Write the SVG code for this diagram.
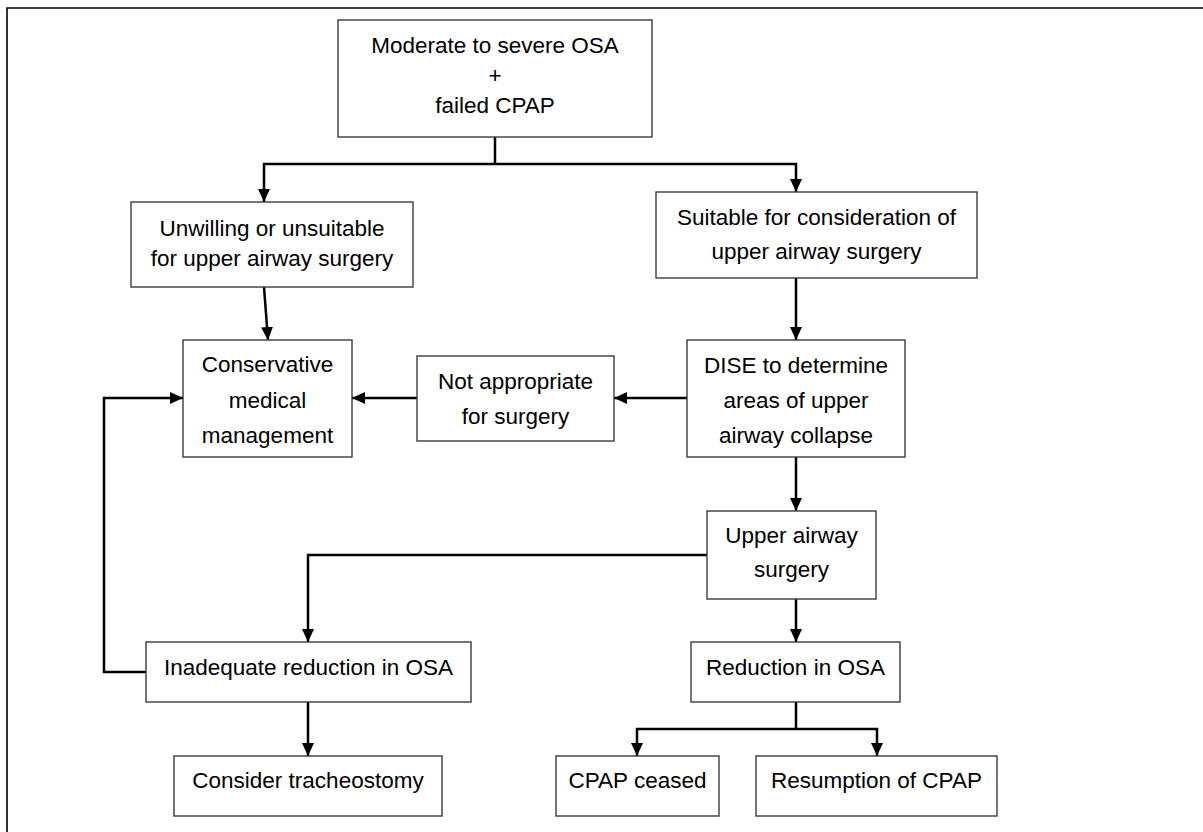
<svg xmlns="http://www.w3.org/2000/svg" width="1203" height="832" viewBox="0 0 1203 832">
<style>
.box{fill:#fff;stroke:#3c3c3c;stroke-width:1.4}
.t{font-family:"Liberation Sans",Arial,sans-serif;font-size:22.5px;fill:#000;text-anchor:middle}
.c{fill:none;stroke:#000;stroke-width:2.5;stroke-linejoin:miter}
.ca{fill:none;stroke:#000;stroke-width:2.5;marker-end:url(#ah)}
</style>
<defs>
<marker id="ah" viewBox="0 0 13 12" refX="13" refY="6" markerUnits="userSpaceOnUse" markerWidth="13" markerHeight="12" orient="auto">
<path d="M0,0 L13,6 L0,12 z" fill="#000"/>
</marker>
</defs>
<rect width="1203" height="832" fill="#fff"/>
<path d="M7,832 V8 H1203" fill="none" stroke="#000" stroke-width="1.6"/>
<g id="connectors">
<path class="c" d="M495,137 V164"/>
<path class="ca" d="M495,164 H264 V202"/>
<path class="ca" d="M495,164 H796 V192"/>
<path class="ca" d="M264,287 L268,340"/>
<path class="ca" d="M796,278 V340"/>
<path class="ca" d="M687,398 H614"/>
<path class="ca" d="M417,398 H352"/>
<path class="ca" d="M796,457 V511"/>
<path class="ca" d="M707,555 H308 V642"/>
<path class="ca" d="M146,672 H104 V398 H183"/>
<path class="ca" d="M796,599 V642"/>
<path class="ca" d="M308,702 V756"/>
<path class="c" d="M796,702 V729"/>
<path class="ca" d="M796,729 H637 V756"/>
<path class="ca" d="M796,729 H877 V756"/>
</g>
<g id="n-top">
<rect class="box" x="338" y="20" width="314" height="117"/>
<text class="t" x="495" y="53">Moderate to severe OSA</text>
<text class="t" x="495" y="83">+</text>
<text class="t" x="495" y="113">failed CPAP</text>
</g>
<g id="n-unwilling">
<rect class="box" x="131" y="202" width="282" height="85"/>
<text class="t" x="272" y="236">Unwilling or unsuitable</text>
<text class="t" x="272" y="266">for upper airway surgery</text>
</g>
<g id="n-suitable">
<rect class="box" x="656" y="192" width="321" height="86"/>
<text class="t" x="816.5" y="225">Suitable for consideration of</text>
<text class="t" x="816.5" y="259">upper airway surgery</text>
</g>
<g id="n-conservative">
<rect class="box" x="183" y="340" width="169" height="117"/>
<text class="t" x="267.5" y="372">Conservative</text>
<text class="t" x="267.5" y="408">medical</text>
<text class="t" x="267.5" y="443">management</text>
</g>
<g id="n-notapp">
<rect class="box" x="417" y="356" width="197" height="85"/>
<text class="t" x="515.5" y="389">Not appropriate</text>
<text class="t" x="515.5" y="424">for surgery</text>
</g>
<g id="n-dise">
<rect class="box" x="687" y="340" width="218" height="117"/>
<text class="t" x="796" y="373">DISE to determine</text>
<text class="t" x="796" y="408">areas of upper</text>
<text class="t" x="796" y="443">airway collapse</text>
</g>
<g id="n-upper">
<rect class="box" x="707" y="511" width="169" height="88"/>
<text class="t" x="791.5" y="543">Upper airway</text>
<text class="t" x="791.5" y="577">surgery</text>
</g>
<g id="n-inadequate">
<rect class="box" x="146" y="642" width="325" height="60"/>
<text class="t" x="308.5" y="675">Inadequate reduction in OSA</text>
</g>
<g id="n-reduction">
<rect class="box" x="691" y="642" width="209" height="60"/>
<text class="t" x="795.5" y="675">Reduction in OSA</text>
</g>
<g id="n-consider">
<rect class="box" x="174" y="756" width="268" height="60"/>
<text class="t" x="308" y="788">Consider tracheostomy</text>
</g>
<g id="n-ceased">
<rect class="box" x="556" y="756" width="163" height="60"/>
<text class="t" x="637.5" y="788">CPAP ceased</text>
</g>
<g id="n-resumption">
<rect class="box" x="756" y="756" width="241" height="60"/>
<text class="t" x="876.5" y="788">Resumption of CPAP</text>
</g>
</svg>
